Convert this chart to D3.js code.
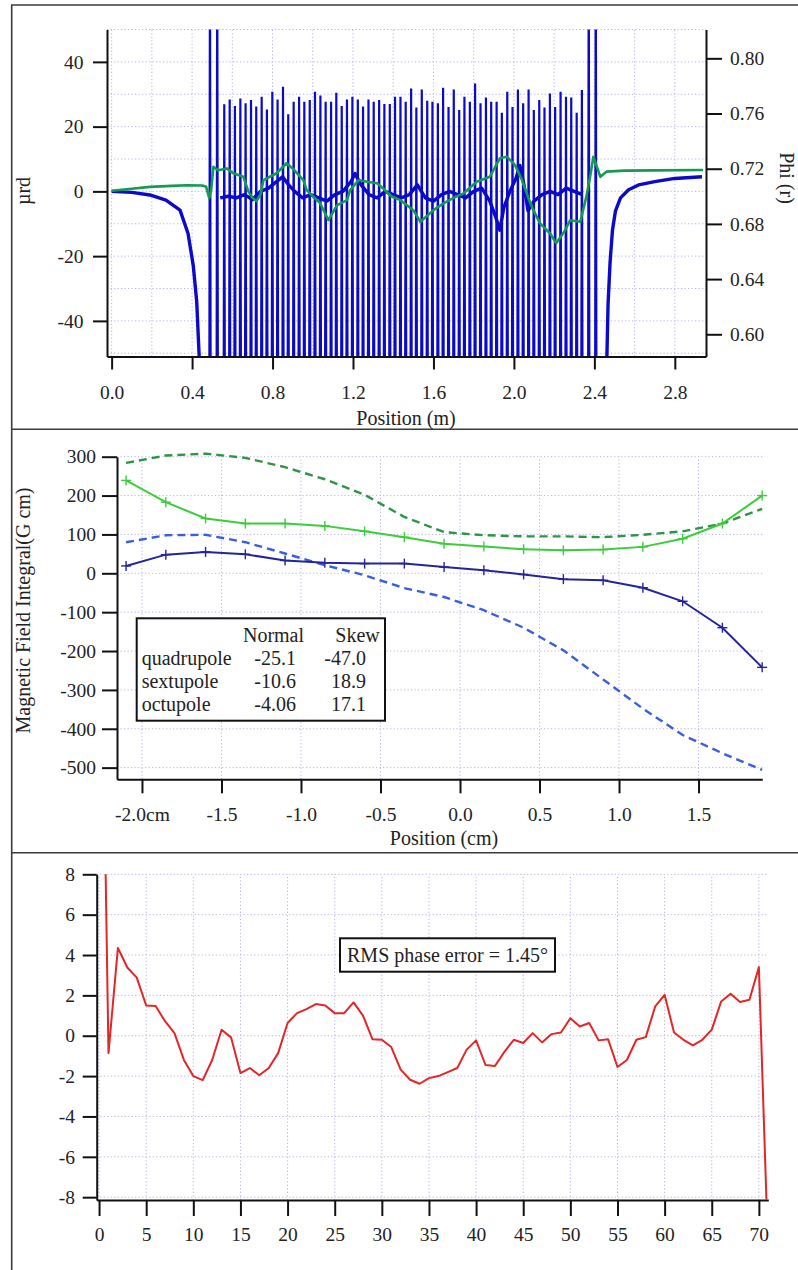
<!DOCTYPE html>
<html>
<head>
<meta charset="utf-8">
<script src="https://cdn.jsdelivr.net/npm/d3@7"></script>
<style>
  body { margin: 0; background: #fff; }
  svg text { font-family: "Liberation Serif", "Times New Roman", serif; fill: #222; }
</style>
</head>
<body>
<div id="chart"></div>
<script>
// ---------------- top panel : trajectory ----------------
const topXTicks = [0, 0.4, 0.8, 1.2, 1.6, 2.0, 2.4, 2.8];
const topXMinor = [0.2, 0.6, 1.0, 1.4, 1.8, 2.2, 2.6];
const topYTicks = [-40, -20, 0, 20, 40];
const topYMinor = [-50, -30, -10, 10, 30, 50];
const phiTicks = [0.60, 0.64, 0.68, 0.72, 0.76, 0.80];
const phiMinor = [0.62, 0.66, 0.70, 0.74, 0.78, 0.82];

// thick blue curve, entrance / inside / exit
const inX = [0, 0.1, 0.19, 0.27, 0.34, 0.38, 0.406, 0.423, 0.436, 0.445];
const inY = [0, -0.3, -1.1, -2.7, -5.8, -13, -23, -34, -52, -80];
const midX = [0.54, 0.58, 0.62, 0.66, 0.70, 0.74, 0.78, 0.82, 0.85, 0.88, 0.91, 0.95, 0.99, 1.03, 1.07, 1.11, 1.15, 1.19, 1.21, 1.24, 1.28, 1.32, 1.36, 1.40, 1.44, 1.48, 1.52, 1.56, 1.60, 1.64, 1.68, 1.72, 1.76, 1.80, 1.84, 1.88, 1.91, 1.93, 1.95, 1.98, 2.01, 2.03, 2.05, 2.07, 2.10, 2.14, 2.18, 2.22, 2.26, 2.30, 2.34];
const midY = [-2, -1.5, -2, -1, -2.5, 0, 1, 3, 4.5, 2, 0, -2, -1, -2, -3, -1, 0, 3, 5.5, 2, -1, -2, 0, -1, -2, -1, 2, -2, -3, -1, 0, -1, -2, 0, 1, -3, -8, -12, -5, 0, 4, 8, 2, -6, -3, -1, 0, -1, 1, 0, -1];
const outX = [2.458, 2.462, 2.468, 2.478, 2.49, 2.505, 2.53, 2.57, 2.62, 2.7, 2.8, 2.935];
const outY = [-80, -52, -35, -22, -12, -6, -2, 0.5, 2, 3, 4, 4.5];

// field-like spikes
const tallX = [0.489, 0.525, 2.372, 2.407];
const spikeX = [0.560, 0.587, 0.613, 0.640, 0.666, 0.693, 0.719, 0.746, 0.772, 0.799, 0.825, 0.852, 0.878, 0.905, 0.932, 0.958, 0.985, 1.011, 1.038, 1.064, 1.091, 1.117, 1.144, 1.170, 1.197, 1.224, 1.250, 1.277, 1.303, 1.330, 1.356, 1.383, 1.409, 1.436, 1.462, 1.489, 1.515, 1.542, 1.569, 1.595, 1.622, 1.648, 1.675, 1.701, 1.728, 1.754, 1.781, 1.807, 1.834, 1.861, 1.887, 1.914, 1.940, 1.967, 1.993, 2.020, 2.046, 2.073, 2.099, 2.126, 2.152, 2.179, 2.205, 2.232, 2.259, 2.285, 2.312, 2.338];
const spikeTop = [26.9, 28.4, 26.4, 28.7, 27.2, 28.2, 26.2, 29.2, 25.3, 30.8, 28.4, 32.3, 23.8, 27.7, 29.2, 27.7, 28.2, 30.8, 29.6, 27.7, 27.7, 30.5, 26.4, 28.4, 29.2, 28.4, 26.2, 28.4, 27.7, 28.2, 27.0, 27.0, 29.2, 29.2, 27.7, 31.8, 25.9, 31.5, 28.0, 27.7, 27.2, 32.0, 26.1, 31.5, 25.1, 29.2, 27.7, 33.3, 27.2, 29.0, 27.7, 27.7, 24.3, 30.8, 26.1, 31.5, 27.2, 31.5, 25.1, 28.2, 25.9, 30.2, 26.1, 30.8, 29.2, 29.0, 24.3, 31.3];

// green curve
const greenX = [0, 0.1, 0.19, 0.30, 0.373, 0.45, 0.47, 0.485, 0.495, 0.506, 0.53, 0.572, 0.605, 0.655, 0.68, 0.70, 0.72, 0.74, 0.755, 0.82, 0.87, 0.90, 0.953, 0.97, 1.0, 1.036, 1.078, 1.12, 1.17, 1.186, 1.228, 1.27, 1.32, 1.35, 1.39, 1.435, 1.5, 1.535, 1.6, 1.65, 1.7, 1.75, 1.815, 1.88, 1.93, 1.965, 2.006, 2.04, 2.07, 2.097, 2.13, 2.18, 2.21, 2.25, 2.28, 2.33, 2.36, 2.38, 2.395, 2.43, 2.46, 2.55, 2.7, 2.94];
const greenY = [0.2, 0.8, 1.4, 1.7, 1.9, 1.8, 1.4, -2, 0.5, 7.6, 6.5, 7.1, 5.6, 4.5, 0, -2, -3, -1, 3.5, 5.6, 8.7, 7.1, 3.5, 0.4, -1.5, -3.6, -8.9, -4.3, -2.7, 0.4, 3.5, 3.0, 2.5, 0.9, -1.5, -2.7, -5.8, -9.4, -5.8, -3.7, -2, -0.6, 3.0, 4.5, 10.2, 10.7, 8.1, 3.5, -1.7, -5.8, -9.9, -13, -16, -12.5, -8.9, -9.4, -1.7, 5, 10.7, 4.5, 6.1, 6.4, 6.5, 6.6];

// ---------------- middle panel : field integrals ----------------
const posCm = [-2.10, -1.85, -1.60, -1.35, -1.10, -0.85, -0.60, -0.35, -0.10, 0.15, 0.40, 0.65, 0.90, 1.15, 1.40, 1.65, 1.90];
const normalSolid = [239, 183, 141, 128, 128, 122, 108, 93, 76, 69, 62, 59, 61, 68, 89, 128, 200];
const skewSolid = [19, 48, 55, 49, 33, 27, 25, 25, 16, 8, -3, -15, -18, -37, -72, -140, -242];
const normalDashed = [284, 303, 308, 297, 273, 242, 202, 145, 106, 98, 95, 95, 93, 99, 108, 128, 166];
const skewDashed = [80, 98, 99, 80, 51, 21, -5, -38, -61, -95, -140, -198, -273, -348, -416, -463, -506];
const midXTicks = [-2.0, -1.5, -1.0, -0.5, 0.0, 0.5, 1.0, 1.5];
const midYTicks = [-500, -400, -300, -200, -100, 0, 100, 200, 300];
const multipoles = ['quadrupole', 'sextupole', 'octupole'];
const normalVals = ['-25.1', '-10.6', '-4.06'];
const skewVals = ['-47.0', '18.9', '17.1'];

// ---------------- bottom panel : phase error ----------------
const poleX = [0.7, 1, 2, 3, 4, 5, 6, 7, 8, 9, 10, 11, 12, 13, 14, 15, 16, 17, 18, 19, 20, 21, 22, 23, 24, 25, 26, 27, 28, 29, 30, 31, 32, 33, 34, 35, 36, 37, 38, 39, 40, 41, 42, 43, 44, 45, 46, 47, 48, 49, 50, 51, 52, 53, 54, 55, 56, 57, 58, 59, 60, 61, 62, 63, 64, 65, 66, 67, 68, 69, 70, 70.8];
const phaseErr = [8.0, -0.86, 4.35, 3.38, 2.88, 1.5, 1.47, 0.72, 0.13, -1.2, -2.0, -2.2, -1.2, 0.3, -0.08, -1.85, -1.6, -1.96, -1.6, -0.86, 0.63, 1.12, 1.32, 1.57, 1.5, 1.12, 1.12, 1.65, 1.0, -0.17, -0.2, -0.56, -1.68, -2.18, -2.38, -2.1, -2.0, -1.8, -1.6, -0.69, -0.23, -1.45, -1.5, -0.8, -0.2, -0.36, 0.13, -0.33, 0.08, 0.16, 0.87, 0.46, 0.63, -0.23, -0.17, -1.55, -1.2, -0.2, -0.07, 1.45, 2.03, 0.16, -0.2, -0.48, -0.2, 0.3, 1.7, 2.08, 1.67, 1.78, 3.4, -8.1];
const phXTicks = [0, 5, 10, 15, 20, 25, 30, 35, 40, 45, 50, 55, 60, 65, 70];
const phYTicks = [-8, -6, -4, -2, 0, 2, 4, 6, 8];
const rmsLabel = 'RMS phase error = 1.45°';

// ---------------- drawing ----------------
const W = 798, H = 1270;
const FONT = '"Liberation Serif", "Times New Roman", serif';
const gridColor = '#b4b4ea';

const svg = d3.select('#chart').append('svg').attr('width', W).attr('height', H);
svg.append('rect').attr('width', W).attr('height', H).attr('fill', '#fff');

// outer frame and panel separators
const frame = svg.append('g').attr('stroke', '#3a3a3a').attr('stroke-width', 1.6);
frame.append('line').attr('x1', 11.7).attr('y1', 5).attr('x2', 11.7).attr('y2', H);
[5, 429.3, 852.7].forEach(y => frame.append('line').attr('x1', 11).attr('y1', y).attr('x2', W).attr('y2', y));

function styleAxis(g, size) {
  g.attr('font-family', FONT).attr('font-size', size || 19.5);
  g.selectAll('text').attr('fill', '#222');
  g.selectAll('line, path').attr('stroke', '#111').attr('stroke-width', 2);
}

function drawGrid(g, x, y, xs, ys) {
  const [x0, x1] = x.range(), [y0, y1] = y.range();
  g.selectAll('.vg').data(xs).enter().append('line')
    .attr('x1', d => x(d)).attr('x2', d => x(d)).attr('y1', y0).attr('y2', y1);
  g.selectAll('.hg').data(ys).enter().append('line')
    .attr('x1', x0).attr('x2', x1).attr('y1', d => y(d)).attr('y2', d => y(d));
  g.attr('stroke', gridColor).attr('stroke-width', 1).attr('stroke-dasharray', '1.2,2.3');
}

// ===== top panel =====
const xT = d3.scaleLinear().domain([-0.023, 2.955]).range([107, 706]);
const yT = d3.scaleLinear().domain([-51, 50]).range([356.5, 29.5]);
const yPhi = d3.scaleLinear().domain([0.5839, 0.8209]).range([356.5, 29.5]);

drawGrid(svg.append('g'), xT, yT, topXTicks.concat(topXMinor), topYTicks.concat(topYMinor));

svg.append('clipPath').attr('id', 'clipTop').append('rect')
  .attr('x', 107).attr('y', 29.5).attr('width', 599).attr('height', 327);
const plotT = svg.append('g').attr('clip-path', 'url(#clipTop)');
const lineT = d3.line().x(d => xT(d[0])).y(d => yT(d[1]));

// spikes: each one rises from below the frame to its top value
const spikePts = [];
const BOT = -80, HALF = 0.0035;
tallX.slice(0, 2).forEach(x => { spikePts.push([x - HALF, BOT], [x, 80], [x + HALF, BOT]); });
spikeX.forEach((x, i) => { spikePts.push([x - HALF, BOT], [x, spikeTop[i]], [x + HALF, BOT]); });
tallX.slice(2).forEach(x => { spikePts.push([x - HALF, BOT], [x, 80], [x + HALF, BOT]); });
plotT.append('path').datum(spikePts).attr('d', lineT)
  .attr('fill', 'none').attr('stroke', '#0a0ac8').attr('stroke-width', 2.2);

[[inX, inY], [midX, midY], [outX, outY]].forEach(([xs, ys]) => {
  plotT.append('path').datum(d3.zip(xs, ys)).attr('d', lineT)
    .attr('fill', 'none').attr('stroke', '#0a0ac8').attr('stroke-width', 3.4)
    .attr('stroke-linejoin', 'round');
});
plotT.append('path').datum(d3.zip(greenX, greenY)).attr('d', lineT)
  .attr('fill', 'none').attr('stroke', '#159a52').attr('stroke-width', 2.6)
  .attr('stroke-linejoin', 'round');

// axes
const fmtInt = d => String(d);
const gL = svg.append('g').attr('transform', 'translate(107,0)');
gL.call(d3.axisLeft(yT).tickValues(topYMinor).tickSize(8).tickSizeOuter(0).tickFormat(''));
gL.call(d3.axisLeft(yT).tickValues(topYTicks).tickSize(14).tickSizeOuter(0).tickPadding(9.5).tickFormat(fmtInt));
styleAxis(gL);
const gR = svg.append('g').attr('transform', 'translate(706,0)');
gR.call(d3.axisRight(yPhi).tickValues(phiMinor).tickSize(9).tickSizeOuter(0).tickFormat(''));
gR.call(d3.axisRight(yPhi).tickValues(phiTicks).tickSize(16).tickSizeOuter(0).tickPadding(8).tickFormat(d => d.toFixed(2)));
styleAxis(gR);
const gB = svg.append('g').attr('transform', 'translate(0,356.5)');
gB.call(d3.axisBottom(xT).tickValues(topXMinor).tickSize(8).tickSizeOuter(0).tickFormat(''));
gB.call(d3.axisBottom(xT).tickValues(topXTicks).tickSize(13).tickSizeOuter(0).tickPadding(16).tickFormat(d => d.toFixed(1)));
styleAxis(gB);

svg.append('text').attr('transform', 'translate(30,191) rotate(-90)')
  .attr('text-anchor', 'middle').attr('font-size', 20).text('µrd');
svg.append('text').attr('transform', 'translate(780,178) rotate(90)')
  .attr('text-anchor', 'middle').attr('font-size', 20).text('Phi (r)');
svg.append('text').attr('x', 406).attr('y', 425)
  .attr('text-anchor', 'middle').attr('font-size', 20).text('Position (m)');

// ===== middle panel =====
const xM = d3.scaleLinear().domain([-2.157, 1.901]).range([117, 762.3]);
const yM = d3.scaleLinear().domain([-530, 300]).range([779.3, 456.7]);
drawGrid(svg.append('g'), xM, yM, midXTicks, midYTicks);

const lineM = d3.line().x(d => xM(d[0])).y(d => yM(d[1]));
const series = [
  { y: normalDashed, color: '#2f9444', dash: '8,5', w: 2.4, marks: false },
  { y: skewDashed, color: '#3a5ee0', dash: '8,5', w: 2.4, marks: false },
  { y: normalSolid, color: '#3ccc3c', dash: null, w: 2, marks: true },
  { y: skewSolid, color: '#24249c', dash: null, w: 2, marks: true }
];
series.forEach(s => {
  const pts = d3.zip(posCm, s.y);
  svg.append('path').datum(pts).attr('d', lineM).attr('fill', 'none')
    .attr('stroke', s.color).attr('stroke-width', s.w).attr('stroke-dasharray', s.dash);
  if (s.marks) {
    const m = svg.append('g').attr('stroke', s.color).attr('stroke-width', 1.4);
    m.selectAll('.h').data(pts).enter().append('line')
      .attr('x1', d => xM(d[0]) - 5).attr('x2', d => xM(d[0]) + 5)
      .attr('y1', d => yM(d[1])).attr('y2', d => yM(d[1]));
    m.selectAll('.v').data(pts).enter().append('line')
      .attr('x1', d => xM(d[0])).attr('x2', d => xM(d[0]))
      .attr('y1', d => yM(d[1]) - 5).attr('y2', d => yM(d[1]) + 5);
  }
});

const gML = svg.append('g').attr('transform', 'translate(117,0)');
gML.call(d3.axisLeft(yM).tickValues(midYTicks).tickSize(15).tickSizeOuter(0).tickPadding(6).tickFormat(fmtInt));
styleAxis(gML);
const gMB = svg.append('g').attr('transform', 'translate(0,779.3)');
gMB.call(d3.axisBottom(xM).tickValues(midXTicks).tickSize(14).tickSizeOuter(0).tickPadding(14)
  .tickFormat(d => d === -2 ? '-2.0cm' : d.toFixed(1)));
styleAxis(gMB);

// table box
const tbl = svg.append('g');
tbl.append('rect').attr('x', 136.7).attr('y', 618.3).attr('width', 248.3).attr('height', 102.4)
  .attr('fill', '#fff').attr('stroke', '#111').attr('stroke-width', 2);
tbl.append('text').attr('x', 273.5).attr('y', 641.5).attr('text-anchor', 'middle').attr('font-size', 20).text('Normal');
tbl.append('text').attr('x', 357.5).attr('y', 641.5).attr('text-anchor', 'middle').attr('font-size', 20).text('Skew');
multipoles.forEach((name, i) => {
  const y = 665 + i * 22.9;
  tbl.append('text').attr('x', 141.7).attr('y', y).attr('font-size', 20).text(name);
  tbl.append('text').attr('x', 296).attr('y', y).attr('text-anchor', 'end').attr('font-size', 20).text(normalVals[i]);
  tbl.append('text').attr('x', 366).attr('y', y).attr('text-anchor', 'end').attr('font-size', 20).text(skewVals[i]);
});

svg.append('text').attr('transform', 'translate(30,610.5) rotate(-90)')
  .attr('text-anchor', 'middle').attr('font-size', 20).text('Magnetic Field Integral(G cm)');
svg.append('text').attr('x', 444).attr('y', 845)
  .attr('text-anchor', 'middle').attr('font-size', 20).text('Position (cm)');

// ===== bottom panel =====
const xB = d3.scaleLinear().domain([-0.25, 71]).range([96.7, 768.3]);
const yB = d3.scaleLinear().domain([-8.14, 8]).range([1200, 874.3]);
drawGrid(svg.append('g'), xB, yB, phXTicks, phYTicks);

svg.append('path').datum(d3.zip(poleX, phaseErr))
  .attr('d', d3.line().x(d => xB(d[0])).y(d => yB(d[1])))
  .attr('fill', 'none').attr('stroke', '#e32626').attr('stroke-width', 2)
  .attr('stroke-linejoin', 'round');

const gBL = svg.append('g').attr('transform', 'translate(96.7,0)');
gBL.call(d3.axisLeft(yB).tickValues(phYTicks).tickSize(14).tickSizeOuter(0).tickPadding(7.7).tickFormat(fmtInt));
styleAxis(gBL);
const gBB = svg.append('g').attr('transform', 'translate(0,1200)');
gBB.call(d3.axisBottom(xB).tickValues(phXTicks).tickSize(16).tickSizeOuter(0).tickPadding(11).tickFormat(fmtInt));
styleAxis(gBB);

const rms = svg.append('g');
rms.append('rect').attr('x', 340).attr('y', 938.3).attr('width', 215).attr('height', 33.4)
  .attr('fill', '#fff').attr('stroke', '#111').attr('stroke-width', 2);
rms.append('text').attr('x', 447.5).attr('y', 961.5).attr('text-anchor', 'middle')
  .attr('font-size', 20).text(rmsLabel);
</script>
</body>
</html>
